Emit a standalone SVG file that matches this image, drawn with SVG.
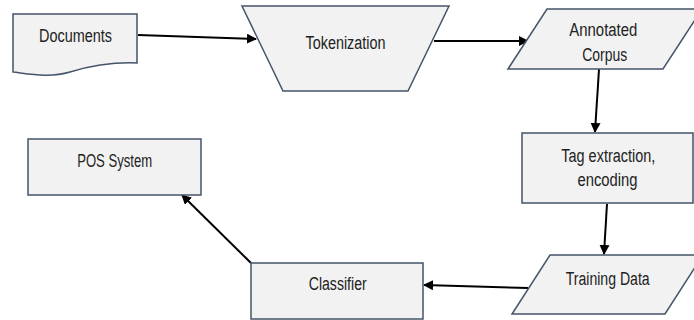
<svg xmlns="http://www.w3.org/2000/svg" width="694" height="320" viewBox="0 0 694 320">
<defs>
<style>
.n{fill:#f2f2f2;stroke:#44546a;stroke-width:1.5}
.t{font-family:"Liberation Sans",Arial,sans-serif;font-size:18px;fill:#222;text-anchor:middle}
.c{stroke:#000;stroke-width:2;fill:none;marker-end:url(#a)}
</style>
<marker id="a" viewBox="0 0 10 10" refX="9" refY="5" markerWidth="5" markerHeight="5" orient="auto" markerUnits="strokeWidth">
<path d="M0,0 L10,5 L0,10 Z" fill="#000"/>
</marker>
</defs>
<rect width="694" height="320" fill="#fff"/>
<g id="connectors">
<path class="c" d="M138,35 L256,39"/>
<path class="c" d="M434,41 L528,41"/>
<path class="c" d="M599,69 L595,132"/>
<path class="c" d="M607,204 L604,254"/>
<path class="c" d="M528,288 L424,285"/>
<path class="c" d="M251,263 L182,195"/>
</g>
<g id="documents">
<path class="n" d="M13,14 H137 V63 C110,62 90,66 70,72 C50,78 30,74 13,72 Z"/>
<text class="t" x="75.5" y="41.7" textLength="73" lengthAdjust="spacingAndGlyphs">Documents</text>
</g>
<g id="tokenization">
<path class="n" d="M242,6 H449 L408,91 H283 Z"/>
<text class="t" x="345.5" y="49.3" textLength="80" lengthAdjust="spacingAndGlyphs">Tokenization</text>
</g>
<g id="annotated-corpus">
<path class="n" d="M547,9 H702 L663,69 H508 Z"/>
<text class="t" x="603.3" y="35.7" textLength="68" lengthAdjust="spacingAndGlyphs">Annotated</text>
<text class="t" x="604.7" y="61" textLength="45" lengthAdjust="spacingAndGlyphs">Corpus</text>
</g>
<g id="tag-extraction">
<rect class="n" x="522" y="133" width="171" height="70"/>
<text class="t" x="608.3" y="161.7" textLength="94" lengthAdjust="spacingAndGlyphs">Tag extraction,</text>
<text class="t" x="607.5" y="185.7" textLength="60" lengthAdjust="spacingAndGlyphs">encoding</text>
</g>
<g id="training-data">
<path class="n" d="M550,255 H703 L665,314 H512 Z"/>
<text class="t" x="607.7" y="285" textLength="84" lengthAdjust="spacingAndGlyphs">Training Data</text>
</g>
<g id="classifier">
<rect class="n" x="251" y="263" width="172" height="56"/>
<text class="t" x="337.7" y="290" textLength="58" lengthAdjust="spacingAndGlyphs">Classifier</text>
</g>
<g id="pos-system">
<rect class="n" x="28" y="139" width="173" height="56"/>
<text class="t" x="114.7" y="166.7" textLength="75" lengthAdjust="spacingAndGlyphs">POS System</text>
</g>
</svg>
